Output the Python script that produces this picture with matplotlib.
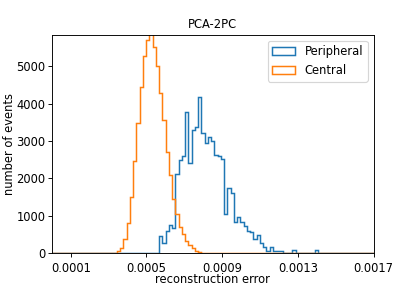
import numpy as np
import matplotlib
matplotlib.use('Agg')
import matplotlib.pyplot as plt

# common binning: 99 bins between 0 and 0.0017
bin_edges = np.linspace(0, 0.0017, 100)

# peripheral counts, starting at bin 33
peripheral_start = 33
peripheral_counts = [467, 271, 609, 751, 671, 2111, 2493, 2600, 3782, 2422,
                     3293, 3382, 4182, 3222, 2956, 3098, 3000, 2627, 2600, 2511,
                     1053, 1738, 1604, 849, 964, 849, 733, 609, 582, 387,
                     493, 271, 182, 67, 182, 67, 67, 67, 0, 0,
                     0, 80, 0, 0, 0, 0, 0, 0, 80]

# central counts, starting at bin 17
central_start = 17
central_counts = [3, 8, 25, 70, 140, 378, 810, 1516, 2460, 3480,
                  4449, 5267, 5693, 5950, 5520, 4990, 4290, 3560, 2700, 2080,
                  1460, 1040, 715, 520, 333, 227, 138, 76, 40, 22,
                  12, 6, 3, 1]

x_ticks = [0.0001, 0.0005, 0.0009, 0.0013, 0.0017]


def full_counts(start, counts):
    # pad the list of counts to the full set of bins
    out = np.zeros(len(bin_edges) - 1)
    out[start:start + len(counts)] = counts
    return out


centers = 0.5 * (bin_edges[:-1] + bin_edges[1:])

plt.rcParams['font.size'] = 10
fig = plt.figure(figsize=(415 / 83, 291 / 83), dpi=83)
ax = fig.add_axes([0.125, 0.129, 0.775, 0.751])

ax.hist(centers, bins=bin_edges, weights=full_counts(peripheral_start, peripheral_counts),
        histtype='step', linewidth=1.3, label='Peripheral')
ax.hist(centers, bins=bin_edges, weights=full_counts(central_start, central_counts),
        histtype='step', linewidth=1.3, label='Central')

ax.set_xlim(0, 0.0017)
ax.set_ylim(0, 5830)
ax.set_xticks(x_ticks)
ax.set_xticklabels([str(t) for t in x_ticks])
ax.tick_params(axis='y', pad=2)
ax.set_xlabel('reconstruction error', labelpad=-1)
ax.set_ylabel('number of events')
ax.yaxis.set_label_coords(-0.112, 0.5)
ax.set_title('PCA-2PC', fontsize=10)
ax.legend(loc='upper right')

fig.savefig('out.png', dpi=83)
